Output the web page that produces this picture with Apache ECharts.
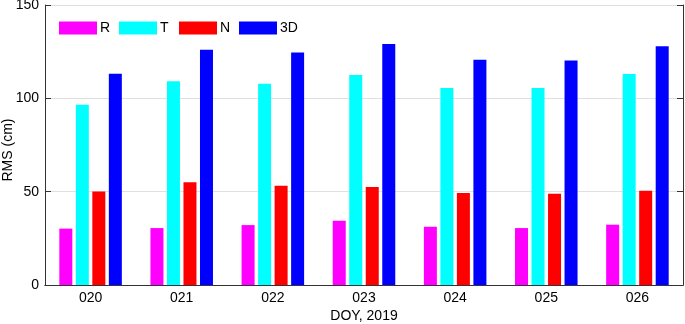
<html style="height: 100%">
<head>
<meta charset="utf-8">
</head>
<body style="height: 100%; margin: 0; background: #fff">
	<div id="container" style="width: 685px; height: 324px"></div>

	<script src="https://cdn.jsdelivr.net/npm/echarts@6/dist/echarts.min.js"></script>
	<script type="text/javascript">
		var dom = document.getElementById("container");
		var myChart = echarts.init(dom);

		// 数据
		var days = ['020', '021', '022', '023', '024', '025', '026'];
		var rData = [30.2, 30.5, 32.1, 34.4, 31.2, 30.5, 32.3];
		var tData = [96.6, 109.1, 107.8, 112.5, 105.5, 105.5, 113.0];
		var nData = [50.1, 55.0, 53.2, 52.5, 49.3, 48.9, 50.5];
		var dData = [113.2, 126.0, 124.6, 129.1, 120.7, 120.3, 127.9];
		var yTicks = [0, 50, 100, 150];

		var font = 'Liberation Sans, Arial, sans-serif';
		var axisColor = '#333333';

		function bar(name, color, data) {
			return {
				name: name,
				type: 'bar',
				barWidth: 13,
				barGap: '27%',
				itemStyle: { color: color },
				data: data
			};
		}

		var option = {
			animation: false,
			textStyle: { fontFamily: font },
			legend: {
				left: 59,
				top: 21,
				padding: 0,
				icon: 'rect',
				itemWidth: 38,
				itemHeight: 13,
				itemGap: 3,
				textStyle: { fontSize: 14, color: '#000', width: 16, lineHeight: 13, padding: [0, 0, 0, -2] },
				data: ['R', 'T', 'N', '3D']
			},
			grid: { left: 45, right: 2, top: 5, bottom: 39, containLabel: false, outerBoundsMode: 'none' },
			xAxis: [{
				type: 'category',
				data: days,
				name: 'DOY, 2019',
				nameLocation: 'middle',
				nameGap: 24,
				nameMoveOverlap: false,
				nameTextStyle: { fontSize: 14, color: '#000' },
				axisLine: { lineStyle: { color: axisColor } },
				axisTick: { inside: true, length: 7, alignWithLabel: true, lineStyle: { color: axisColor } },
				axisLabel: { fontSize: 14, color: '#000', margin: 6 }
			}, {
				type: 'category',
				data: days,
				position: 'top',
				axisLine: { lineStyle: { color: axisColor } },
				axisTick: { inside: true, length: 7, alignWithLabel: true, lineStyle: { color: axisColor } },
				axisLabel: { show: false }
			}],
			yAxis: [{
				type: 'value',
				min: yTicks[0],
				max: yTicks[yTicks.length - 1],
				interval: 50,
				name: 'RMS (cm)',
				nameLocation: 'middle',
				nameGap: 30,
				nameMoveOverlap: false,
				nameTextStyle: { fontSize: 14, color: '#000', padding: [0, 10, 0, 0] },
				axisLine: { show: true, lineStyle: { color: axisColor } },
				axisTick: { show: true, inside: true, length: 6, lineStyle: { color: axisColor } },
				axisLabel: { fontSize: 14, color: '#000', margin: 6 },
				splitLine: { lineStyle: { color: '#e0e0e0' } }
			}, {
				type: 'value',
				min: yTicks[0],
				max: yTicks[yTicks.length - 1],
				interval: 50,
				position: 'right',
				axisLine: { show: true, lineStyle: { color: axisColor } },
				axisTick: { show: true, inside: true, length: 6, lineStyle: { color: axisColor } },
				axisLabel: { show: false },
				splitLine: { show: false }
			}],
			series: [
				bar('R', '#ff00ff', rData),
				bar('T', '#00ffff', tData),
				bar('N', '#ff0000', nData),
				bar('3D', '#0000ff', dData)
			]
		};

		myChart.setOption(option);
	</script>
</body>
</html>
